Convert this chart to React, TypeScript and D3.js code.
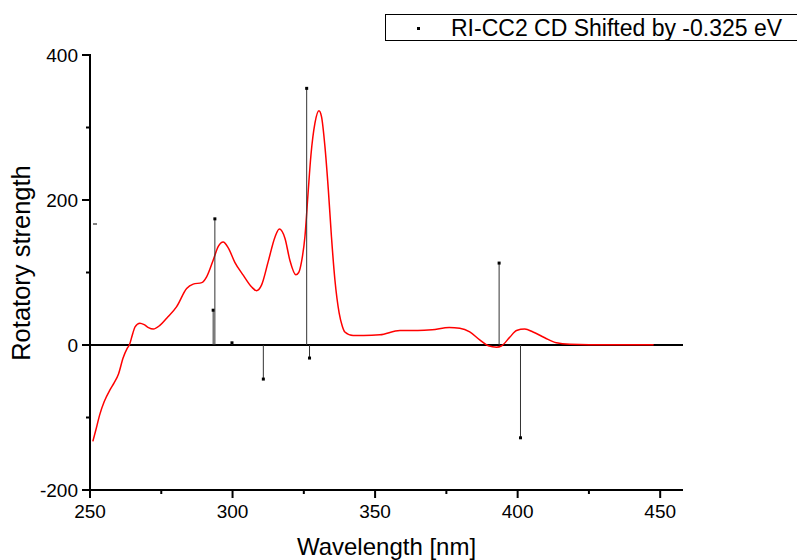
import React from "react";
import * as d3 from "d3";

const curveWavelength = [251.0, 252.0, 253.5, 255.0, 257.0, 258.5, 260.0, 261.6, 263.0, 263.8, 265.0, 265.8, 267.5, 269.0, 270.5, 272.2, 274.5, 276.9, 280.4, 283.9, 286.2, 289.2, 290.9, 293.2, 295.0, 296.7, 298.5, 300.8, 303.8, 306.7, 308.4, 310.2, 312.5, 314.9, 316.4, 318.4, 320.1, 322.2, 323.2, 324.2, 325.4, 326.5, 327.5, 328.9, 330.3, 331.2, 332.4, 333.6, 334.7, 335.9, 337.4, 338.5, 339.4, 342.3, 346, 351.7, 358.7, 365, 370, 376, 379.7, 383.2, 386.7, 389.7, 392.6, 394.4, 397.3, 399.6, 402.5, 405.4, 409.5, 413.6, 418.3, 425, 447.7];
const curveStrength = [-133, -118, -95, -78, -62, -52, -40, -18, -5, 0, 16, 25, 30, 28, 24, 22, 27, 37, 53, 78, 84, 86, 94, 117, 136, 142, 134, 114, 96, 80, 75, 83, 115, 149, 160, 147, 117, 97, 100, 115, 150, 210, 262, 306, 323, 315, 274, 214, 149, 90, 44, 26, 18, 13, 13, 14, 20, 20, 21, 24, 23, 18, 7, -1, -3, -1, 11, 20, 22, 18, 10, 3, 1, 0.5, 0.5];

const stickWavelength = [293.2, 293.8, 299.8, 310.8, 326.0, 327.0, 393.5, 401.0];
const stickStrength = [48, 174, 3, -47, 354, -18, 113, -128];

const xMajorTicks = [250, 300, 350, 400, 450];
const xMinorTicks = [275, 325, 375, 425];
const yMajorTicks = [400, 200, 0, -200];
const yMinorTicks = [300, 100, -100];

const legendLabel = "RI-CC2 CD Shifted by -0.325 eV";
const xTitle = "Wavelength [nm]";
const yTitle = "Rotatory strength";

export default function App() {
  const x = d3.scaleLinear().domain([250, 458]).range([90, 683]);
  const y = d3.scaleLinear().domain([-200, 400]).range([490, 55]);
  const font = "Liberation Sans, Arial, sans-serif";

  const pts: [number, number][] = curveWavelength.map((w, i) => [w, curveStrength[i]]);
  const line = d3
    .line<[number, number]>()
    .x((d) => x(d[0]))
    .y((d) => y(d[1]))
    .curve(d3.curveMonotoneX);

  const x0 = x(250);
  const x1 = x(458);
  const yb = y(-200);

  return (
    <svg
      width={797}
      height={560}
      style={{ position: "absolute", left: 0, top: 0, background: "#fff" }}
      fontFamily={font}
    >
      <rect x={0} y={0} width={797} height={560} fill="#fff" />
      {/* zero line */}
      <line x1={x0} x2={x1} y1={y(0)} y2={y(0)} stroke="#000" strokeWidth={2} />
      {/* curve */}
      <path d={line(pts) || ""} fill="none" stroke="#ff0000" strokeWidth={1.5} />
      {/* sticks */}
      {stickWavelength.map((w, i) => (
        <g key={i}>
          <line x1={x(w)} x2={x(w)} y1={y(0)} y2={y(stickStrength[i])} stroke="#333" strokeWidth={1} />
          <rect x={x(w) - 1.5} y={y(stickStrength[i]) - 1.5} width={3} height={3} fill="#000" />
        </g>
      ))}
      {/* axes */}
      <line x1={x0} x2={x0} y1={y(400) - 1} y2={yb + 1} stroke="#000" strokeWidth={2} />
      <line x1={x0 - 1} x2={x1} y1={yb} y2={yb} stroke="#000" strokeWidth={2} />
      {yMajorTicks.map((t) => (
        <g key={"ym" + t}>
          <line x1={x0 - 8} x2={x0} y1={y(t)} y2={y(t)} stroke="#000" strokeWidth={2} />
          <text x={x0 - 12} y={y(t)} dy="0.35em" textAnchor="end" fontSize={19} fill="#000">
            {t}
          </text>
        </g>
      ))}
      {yMinorTicks.map((t) => (
        <line key={"yn" + t} x1={x0 - 4} x2={x0} y1={y(t)} y2={y(t)} stroke="#000" strokeWidth={2} />
      ))}
      {xMajorTicks.map((t) => (
        <g key={"xm" + t}>
          <line x1={x(t)} x2={x(t)} y1={yb} y2={yb + 8} stroke="#000" strokeWidth={2} />
          <text x={x(t)} y={yb + 28} textAnchor="middle" fontSize={19} fill="#000">
            {t}
          </text>
        </g>
      ))}
      {xMinorTicks.map((t) => (
        <line key={"xn" + t} x1={x(t)} x2={x(t)} y1={yb} y2={yb + 4} stroke="#000" strokeWidth={2} />
      ))}
      {/* small artifact dash */}
      <line x1={x0 + 3} x2={x0 + 7} y1={224} y2={224} stroke="#000" strokeWidth={1} />
      {/* titles */}
      <text x={(x0 + x1) / 2} y={555} textAnchor="middle" fontSize={24} fill="#000">
        {xTitle}
      </text>
      <text
        transform={`translate(30, 263) rotate(-90)`}
        textAnchor="middle"
        fontSize={25.5}
        fill="#000"
      >
        {yTitle}
      </text>
      {/* legend */}
      <rect x={385.5} y={14.5} width={420} height={26} fill="#fff" stroke="#000" strokeWidth={1} />
      <rect x={417} y={27} width={3} height={3} fill="#000" />
      <text x={451} y={36} fontSize={23} fill="#000">
        {legendLabel}
      </text>
    </svg>
  );
}
